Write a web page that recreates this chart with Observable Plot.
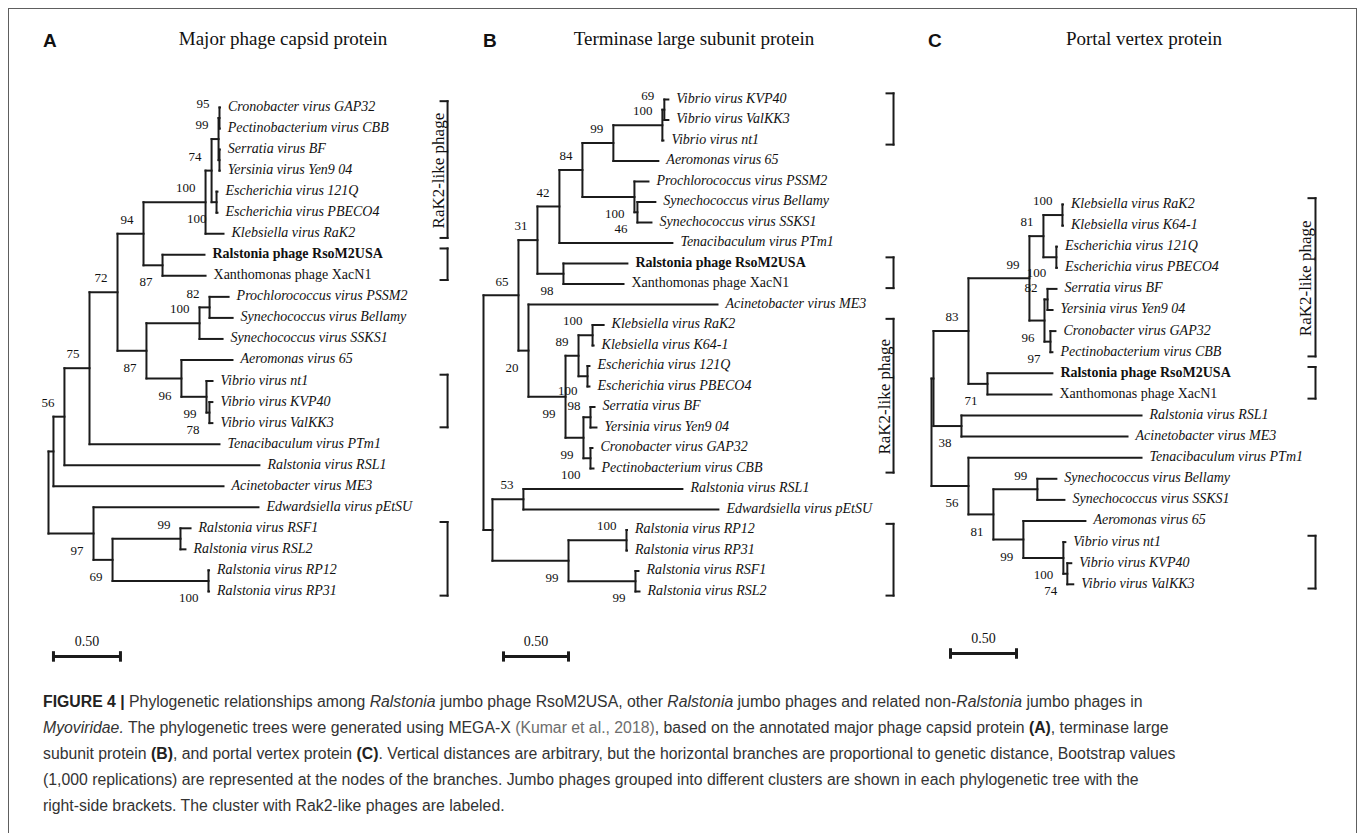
<!DOCTYPE html>
<html>
<head>
<meta charset="utf-8">
<script src="https://cdn.jsdelivr.net/npm/d3@7"></script>
<script src="https://cdn.jsdelivr.net/npm/@observablehq/plot@0.6"></script>
<style>
  body { margin: 0; background: #fff; }
  #fig { position: relative; width: 1357px; height: 833px; overflow: hidden; background: #fff; }
  #frame { position: absolute; left: 8px; top: 8px; width: 1349px; height: 900px; border: 1.5px solid #5e5e5e; box-sizing: border-box; }
  .panel { position: absolute; top: 0; }
  .letter { position: absolute; font-family: "Liberation Sans", Arial, sans-serif; font-weight: bold; font-size: 19px; line-height: 1; color: #111; }
  .ptitle { position: absolute; font-family: "Liberation Serif", "Times New Roman", serif; font-size: 19px; line-height: 1; color: #111; transform: translateX(-50%); white-space: nowrap; }
  #caption { position: absolute; left: 43px; top: 689px; font-family: "Liberation Sans", Arial, sans-serif; font-size: 15.8px; line-height: 26px; color: #333; white-space: nowrap; }
  #caption b { color: #222; }
  #caption .cite { color: #6d6d6d; }
</style>
</head>
<body>
<div id="fig">
  <div id="frame"></div>
</div>
<script>
// ---------- DATA: edges [node, parent, branch length (subst./site), bootstrap] ----------
const treeA = [
  ["A0", null, 0, null],
  ["A1", "A0", 0.037, null],
  ["A2", "A1", 0.082, 56],
  ["A3", "A2", 0.187, 75],
  ["A4", "A3", 0.209, 72],
  ["A5", "A4", 0.194, 94],
  ["A6", "A5", 0.463, 100],
  ["A7", "A6", 0.045, 74],
  ["A8", "A7", 0.052, 99],
  ["A9", "A8", 0.007, 95],
  ["Cronobacter virus GAP32", "A9", 0.004, null],
  ["Pectinobacterium virus CBB", "A9", 0.002, null],
  ["A10", "A8", 0.007, null],
  ["Serratia virus BF", "A10", 0.002, null],
  ["Yersinia virus Yen9 04", "A10", 0.002, null],
  ["A11", "A7", 0.037, 100],
  ["Escherichia virus 121Q", "A11", 0.007, null],
  ["Escherichia virus PBECO4", "A11", 0.007, null],
  ["Klebsiella virus RaK2", "A6", 0.134, null],
  ["A12", "A5", 0.142, 87],
  ["Ralstonia phage RsoM2USA", "A12", 0.313, null],
  ["Xanthomonas phage XacN1", "A12", 0.321, null],
  ["A13", "A4", 0.216, 87],
  ["A14", "A13", 0.396, 100],
  ["A15", "A14", 0.075, 82],
  ["Prochlorococcus virus PSSM2", "A15", 0.142, null],
  ["Synechococcus virus Bellamy", "A15", 0.172, null],
  ["Synechococcus virus SSKS1", "A14", 0.172, null],
  ["A16", "A13", 0.261, 96],
  ["Aeromonas virus 65", "A16", 0.381, null],
  ["A17", "A16", 0.187, 99],
  ["Vibrio virus nt1", "A17", 0.045, null],
  ["A18", "A17", 0.022, 78],
  ["Vibrio virus KVP40", "A18", 0.022, null],
  ["Vibrio virus ValKK3", "A18", 0.022, null],
  ["Tenacibaculum virus PTm1", "A3", 0.970, null],
  ["Ralstonia virus RSL1", "A2", 1.455, null],
  ["Acinetobacter virus ME3", "A1", 1.269, null],
  ["A19", "A0", 0.336, 97],
  ["Edwardsiella virus pEtSU", "A19", 1.231, null],
  ["A20", "A19", 0.142, 69],
  ["A21", "A20", 0.507, 99],
  ["Ralstonia virus RSF1", "A21", 0.075, null],
  ["Ralstonia virus RSL2", "A21", 0.037, null],
  ["A22", "A20", 0.716, 100],
  ["Ralstonia virus RP12", "A22", 0.004, null],
  ["Ralstonia virus RP31", "A22", 0.004, null]
];

const treeB = [
  ["B0", null, 0, null],
  ["B1", "B0", 0.269, 65],
  ["B2", "B1", 0.146, 31],
  ["B3", "B2", 0.169, 42],
  ["B4", "B3", 0.177, 84],
  ["B5", "B4", 0.238, 99],
  ["B6", "B5", 0.377, 100],
  ["B7", "B6", 0.015, 69],
  ["Vibrio virus KVP40", "B7", 0.031, null],
  ["Vibrio virus ValKK3", "B7", 0.031, null],
  ["Vibrio virus nt1", "B6", 0.008, null],
  ["Aeromonas virus 65", "B5", 0.346, null],
  ["B8", "B4", 0.400, 100],
  ["Prochlorococcus virus PSSM2", "B8", 0.108, null],
  ["B9", "B8", 0.023, 46],
  ["Synechococcus virus Bellamy", "B9", 0.138, null],
  ["Synechococcus virus SSKS1", "B9", 0.108, null],
  ["Tenacibaculum virus PTm1", "B3", 0.869, null],
  ["B10", "B2", 0.200, 98],
  ["Ralstonia phage RsoM2USA", "B10", 0.492, null],
  ["Xanthomonas phage XacN1", "B10", 0.462, null],
  ["B11", "B1", 0.077, 20],
  ["Acinetobacter virus ME3", "B11", 1.454, null],
  ["B12", "B11", 0.285, 99],
  ["B13", "B12", 0.100, 89],
  ["B14", "B13", 0.108, 100],
  ["Klebsiella virus RaK2", "B14", 0.085, null],
  ["Klebsiella virus K64-1", "B14", 0.008, null],
  ["B15", "B13", 0.069, 100],
  ["Escherichia virus 121Q", "B15", 0.015, null],
  ["Escherichia virus PBECO4", "B15", 0.015, null],
  ["B16", "B12", 0.138, 99],
  ["B17", "B16", 0.054, 98],
  ["Serratia virus BF", "B17", 0.031, null],
  ["Yersinia virus Yen9 04", "B17", 0.046, null],
  ["B18", "B16", 0.054, 100],
  ["Cronobacter virus GAP32", "B18", 0.015, null],
  ["Pectinobacterium virus CBB", "B18", 0.023, null],
  ["B19", "B0", 0.069, null],
  ["B20", "B19", 0.238, 53],
  ["Ralstonia virus RSL1", "B20", 1.223, null],
  ["Edwardsiella virus pEtSU", "B20", 1.500, null],
  ["B21", "B19", 0.585, 99],
  ["B22", "B21", 0.446, 100],
  ["Ralstonia virus RP12", "B22", 0.004, null],
  ["Ralstonia virus RP31", "B22", 0.004, null],
  ["B23", "B21", 0.515, 99],
  ["Ralstonia virus RSF1", "B23", 0.023, null],
  ["Ralstonia virus RSL2", "B23", 0.031, null]
];

const treeC = [
  ["C0", null, 0, null],
  ["C1", "C0", 0.015, null],
  ["C2", "C1", 0.265, 83],
  ["C3", "C2", 0.462, 99],
  ["C4", "C3", 0.106, 81],
  ["C5", "C4", 0.144, 100],
  ["Klebsiella virus RaK2", "C5", 0.004, null],
  ["Klebsiella virus K64-1", "C5", 0.004, null],
  ["C6", "C4", 0.098, 100],
  ["Escherichia virus 121Q", "C6", 0.004, null],
  ["Escherichia virus PBECO4", "C6", 0.004, null],
  ["C7", "C3", 0.114, 96],
  ["C8", "C7", 0.023, 82],
  ["Serratia virus BF", "C8", 0.068, null],
  ["Yersinia virus Yen9 04", "C8", 0.038, null],
  ["C9", "C7", 0.045, 97],
  ["Cronobacter virus GAP32", "C9", 0.038, null],
  ["Pectinobacterium virus CBB", "C9", 0.015, null],
  ["C10", "C2", 0.144, 71],
  ["Ralstonia phage RsoM2USA", "C10", 0.492, null],
  ["Xanthomonas phage XacN1", "C10", 0.485, null],
  ["C11", "C1", 0.212, 38],
  ["Ralstonia virus RSL1", "C11", 1.364, null],
  ["Acinetobacter virus ME3", "C11", 1.258, null],
  ["C12", "C0", 0.280, 56],
  ["Tenacibaculum virus PTm1", "C12", 1.311, null],
  ["C13", "C12", 0.189, 81],
  ["C14", "C13", 0.333, 99],
  ["Synechococcus virus Bellamy", "C14", 0.144, null],
  ["Synechococcus virus SSKS1", "C14", 0.205, null],
  ["C15", "C13", 0.227, 99],
  ["Aeromonas virus 65", "C15", 0.470, null],
  ["C16", "C15", 0.303, 100],
  ["Vibrio virus nt1", "C16", 0.015, null],
  ["C17", "C16", 0.030, 74],
  ["Vibrio virus KVP40", "C17", 0.030, null],
  ["Vibrio virus ValKK3", "C17", 0.045, null]
];

// Clusters marked with right-side brackets
const clustersA = [
  {first: "Cronobacter virus GAP32", last: "Klebsiella virus RaK2", label: "RaK2-like phage"},
  {first: "Ralstonia phage RsoM2USA", last: "Xanthomonas phage XacN1", label: ""},
  {first: "Vibrio virus nt1", last: "Vibrio virus ValKK3", label: ""},
  {first: "Ralstonia virus RSF1", last: "Ralstonia virus RP31", label: ""}
];
const clustersB = [
  {first: "Vibrio virus KVP40", last: "Vibrio virus nt1", label: ""},
  {first: "Ralstonia phage RsoM2USA", last: "Xanthomonas phage XacN1", label: ""},
  {first: "Klebsiella virus RaK2", last: "Pectinobacterium virus CBB", label: "RaK2-like phage"},
  {first: "Ralstonia virus RP12", last: "Ralstonia virus RSL2", label: ""}
];
const clustersC = [
  {first: "Klebsiella virus RaK2", last: "Pectinobacterium virus CBB", label: "RaK2-like phage"},
  {first: "Ralstonia phage RsoM2USA", last: "Xanthomonas phage XacN1", label: ""},
  {first: "Vibrio virus nt1", last: "Vibrio virus ValKK3", label: ""}
];

const panelLetters = ["A", "B", "C"];
const panelTitles = ["Major phage capsid protein", "Terminase large subunit protein", "Portal vertex protein"];
const scaleBarLength = 0.5;
const scaleBarLabel = "0.50";

// ---------- LAYOUT (sizes / positions only) ----------
const layoutCfg = [
  {edges: treeA, clusters: clustersA, offset: 0,   width: 462, left: 48, ppu: 134, xmax: 3, top: 107, row: 21.04, bracketX: 2.978, barStart: 0.037, barRows: 3.09, letterX: 43,  titleX: 283},
  {edges: treeB, clusters: clustersB, offset: 462, width: 443, left: 21, ppu: 130, xmax: 3, top: 99,  row: 20.5,  bracketX: 3.154, barStart: 0.154, barRows: 3.17, letterX: 483, titleX: 694},
  {edges: treeC, clusters: clustersC, offset: 905, width: 452, left: 26, ppu: 132, xmax: 3, top: 204, row: 21.1,  bracketX: 2.909, barStart: 0.144, barRows: 3.28, letterX: 928, titleX: 1144}
];
const H = 690;
const ink = "#1b1b1b";
const serif = '"Liberation Serif", "Times New Roman", Times, serif';
const bootDx = -10, bootAbove = -14, bootBelow = 17, bootMinGap = 15;

function layoutTree(edges) {
  const nodes = new Map();
  edges.forEach(([id, parent, len, boot]) => nodes.set(id, {id, parent, len, boot, children: []}));
  let root;
  for (const n of nodes.values()) {
    if (n.parent == null) root = n; else nodes.get(n.parent).children.push(n);
  }
  let leafIndex = 0;
  (function walk(n, x) {
    n.x = x;
    n.children.forEach(c => walk(c, x + c.len));
    if (!n.children.length) n.y = leafIndex++;
    else n.y = (n.children[0].y + n.children[n.children.length - 1].y) / 2;
  })(root, 0);
  const all = [...nodes.values()];
  const hLinks = all.filter(n => n.parent != null).map(n => ({x1: nodes.get(n.parent).x, x2: n.x, y: n.y}));
  const vLinks = all.filter(n => n.children.length).map(n => ({x: n.x, y1: n.children[0].y, y2: n.children[n.children.length - 1].y}));
  const leaves = all.filter(n => !n.children.length);
  const boots = all.filter(n => n.boot != null).map(n => ({x: n.x, y: n.y, boot: String(n.boot), upper: nodes.get(n.parent).children[0] === n}));
  return {nodes, hLinks, vLinks, leaves, boots};
}

// Place bootstrap labels above (upper child) or below (lower child) the incoming branch,
// then nudge apart any pair that would collide.
function placeBoots(boots, cfg) {
  const L = boots.map(d => ({
    ...d,
    right: cfg.left + cfg.ppu * d.x + bootDx,
    w: 6.6 * d.boot.length,
    py: cfg.top + cfg.row * d.y + (d.upper ? bootAbove : bootBelow)
  }));
  for (let iter = 0; iter < 30; iter++) {
    for (const a of L) for (const b of L) {
      if (a === b) continue;
      if (a.right - a.w >= b.right || b.right - b.w >= a.right) continue;
      const gap = b.py - a.py;
      if (gap >= 0 && gap < bootMinGap) {
        const push = (bootMinGap - gap) / 2;
        a.py -= push; b.py += push;
      }
    }
  }
  return L.map(d => ({...d, ly: (d.py - cfg.top) / cfg.row}));
}

const fig = document.getElementById("fig");

layoutCfg.forEach((cfg, i) => {
  const t = layoutTree(cfg.edges);
  const n = t.leaves.length;
  const yIndex = name => t.nodes.get(name).y;
  const brackets = cfg.clusters.map(c => ({
    x: cfg.bracketX, y1: yIndex(c.first) - 0.3, y2: yIndex(c.last) + 0.2,
    mid: (yIndex(c.first) + yIndex(c.last)) / 2, label: c.label
  }));
  const tick = 7 / cfg.ppu;
  const barY = n - 1 + cfg.barRows;
  const bar = [{x1: cfg.barStart, x2: cfg.barStart + scaleBarLength, y: barY, label: scaleBarLabel}];
  const boots = placeBoots(t.boots, cfg);
  const isBold = d => d.id.includes("RsoM2USA");
  const isRoman = d => !isBold(d) && d.id.includes(" phage ");
  const isItalic = d => !isBold(d) && !isRoman(d);
  const lineOpts = {stroke: ink, strokeWidth: 2, strokeLinecap: "square"};
  const leafOpts = {x: "x", y: "y", text: "id", textAnchor: "start", dx: 8, dy: -1, fontSize: 14, fontFamily: serif, fill: "#111"};

  const plot = Plot.plot({
    width: cfg.width,
    height: H,
    marginLeft: cfg.left,
    marginRight: cfg.width - cfg.left - cfg.ppu * cfg.xmax,
    marginTop: cfg.top,
    marginBottom: H - cfg.top - cfg.row * (n - 1),
    x: {domain: [0, cfg.xmax], axis: null},
    y: {domain: [0, n - 1], reverse: true, axis: null},
    style: {background: "transparent", overflow: "visible"},
    marks: [
      Plot.link(t.hLinks, {x1: "x1", x2: "x2", y1: "y", y2: "y", ...lineOpts}),
      Plot.link(t.vLinks, {x1: "x", x2: "x", y1: "y1", y2: "y2", ...lineOpts}),
      Plot.text(t.leaves.filter(isItalic), {...leafOpts, fontStyle: "italic"}),
      Plot.text(t.leaves.filter(isRoman), {...leafOpts}),
      Plot.text(t.leaves.filter(isBold), {...leafOpts, fontWeight: "bold"}),
      Plot.text(boots, {x: "x", y: "ly", text: "boot", textAnchor: "end", dx: bootDx, fontSize: 13, fontFamily: serif, fill: "#111"}),
      // brackets
      Plot.link(brackets, {x1: "x", x2: "x", y1: "y1", y2: "y2", ...lineOpts}),
      Plot.link(brackets, {x1: d => d.x - tick, x2: "x", y1: "y1", y2: "y1", ...lineOpts}),
      Plot.link(brackets, {x1: d => d.x - tick, x2: "x", y1: "y2", y2: "y2", ...lineOpts}),
      Plot.text(brackets.filter(d => d.label), {x: "x", y: "mid", text: "label", rotate: -90, textAnchor: "middle", lineAnchor: "bottom", dx: -4, fontSize: 17, fontFamily: serif, fill: "#111"}),
      // scale bar
      Plot.link(bar, {x1: "x1", x2: "x2", y1: "y", y2: "y", stroke: ink, strokeWidth: 3}),
      Plot.link(bar, {x1: "x1", x2: "x1", y1: d => d.y - 0.25, y2: d => d.y + 0.25, stroke: ink, strokeWidth: 3}),
      Plot.link(bar, {x1: "x2", x2: "x2", y1: d => d.y - 0.25, y2: d => d.y + 0.25, stroke: ink, strokeWidth: 3}),
      Plot.text(bar, {x: d => (d.x1 + d.x2) / 2, y: "y", text: "label", dy: -15, fontSize: 14, fontFamily: serif, fill: "#111"})
    ]
  });
  const wrap = document.createElement("div");
  wrap.className = "panel";
  wrap.style.left = cfg.offset + "px";
  wrap.appendChild(plot);
  fig.appendChild(wrap);

  const letter = document.createElement("div");
  letter.className = "letter";
  letter.textContent = panelLetters[i];
  letter.style.left = cfg.letterX + "px";
  letter.style.top = "30.5px";
  fig.appendChild(letter);

  const title = document.createElement("div");
  title.className = "ptitle";
  title.textContent = panelTitles[i];
  title.style.left = cfg.titleX + "px";
  title.style.top = "29px";
  fig.appendChild(title);
});

const caption = document.createElement("div");
caption.id = "caption";
caption.innerHTML = [
  '<b>FIGURE 4 |</b> Phylogenetic relationships among <i>Ralstonia</i> jumbo phage RsoM2USA, other <i>Ralstonia</i> jumbo phages and related non-<i>Ralstonia</i> jumbo phages in',
  '<i>Myoviridae.</i> The phylogenetic trees were generated using MEGA-X <span class="cite">(Kumar et al., 2018)</span>, based on the annotated major phage capsid protein <b>(A)</b>, terminase large',
  'subunit protein <b>(B)</b>, and portal vertex protein <b>(C)</b>. Vertical distances are arbitrary, but the horizontal branches are proportional to genetic distance, Bootstrap values',
  '(1,000 replications) are represented at the nodes of the branches. Jumbo phages grouped into different clusters are shown in each phylogenetic tree with the',
  'right-side brackets. The cluster with Rak2-like phages are labeled.'
].map(l => '<div>' + l + '</div>').join('');
fig.appendChild(caption);
</script>
</body>
</html>
